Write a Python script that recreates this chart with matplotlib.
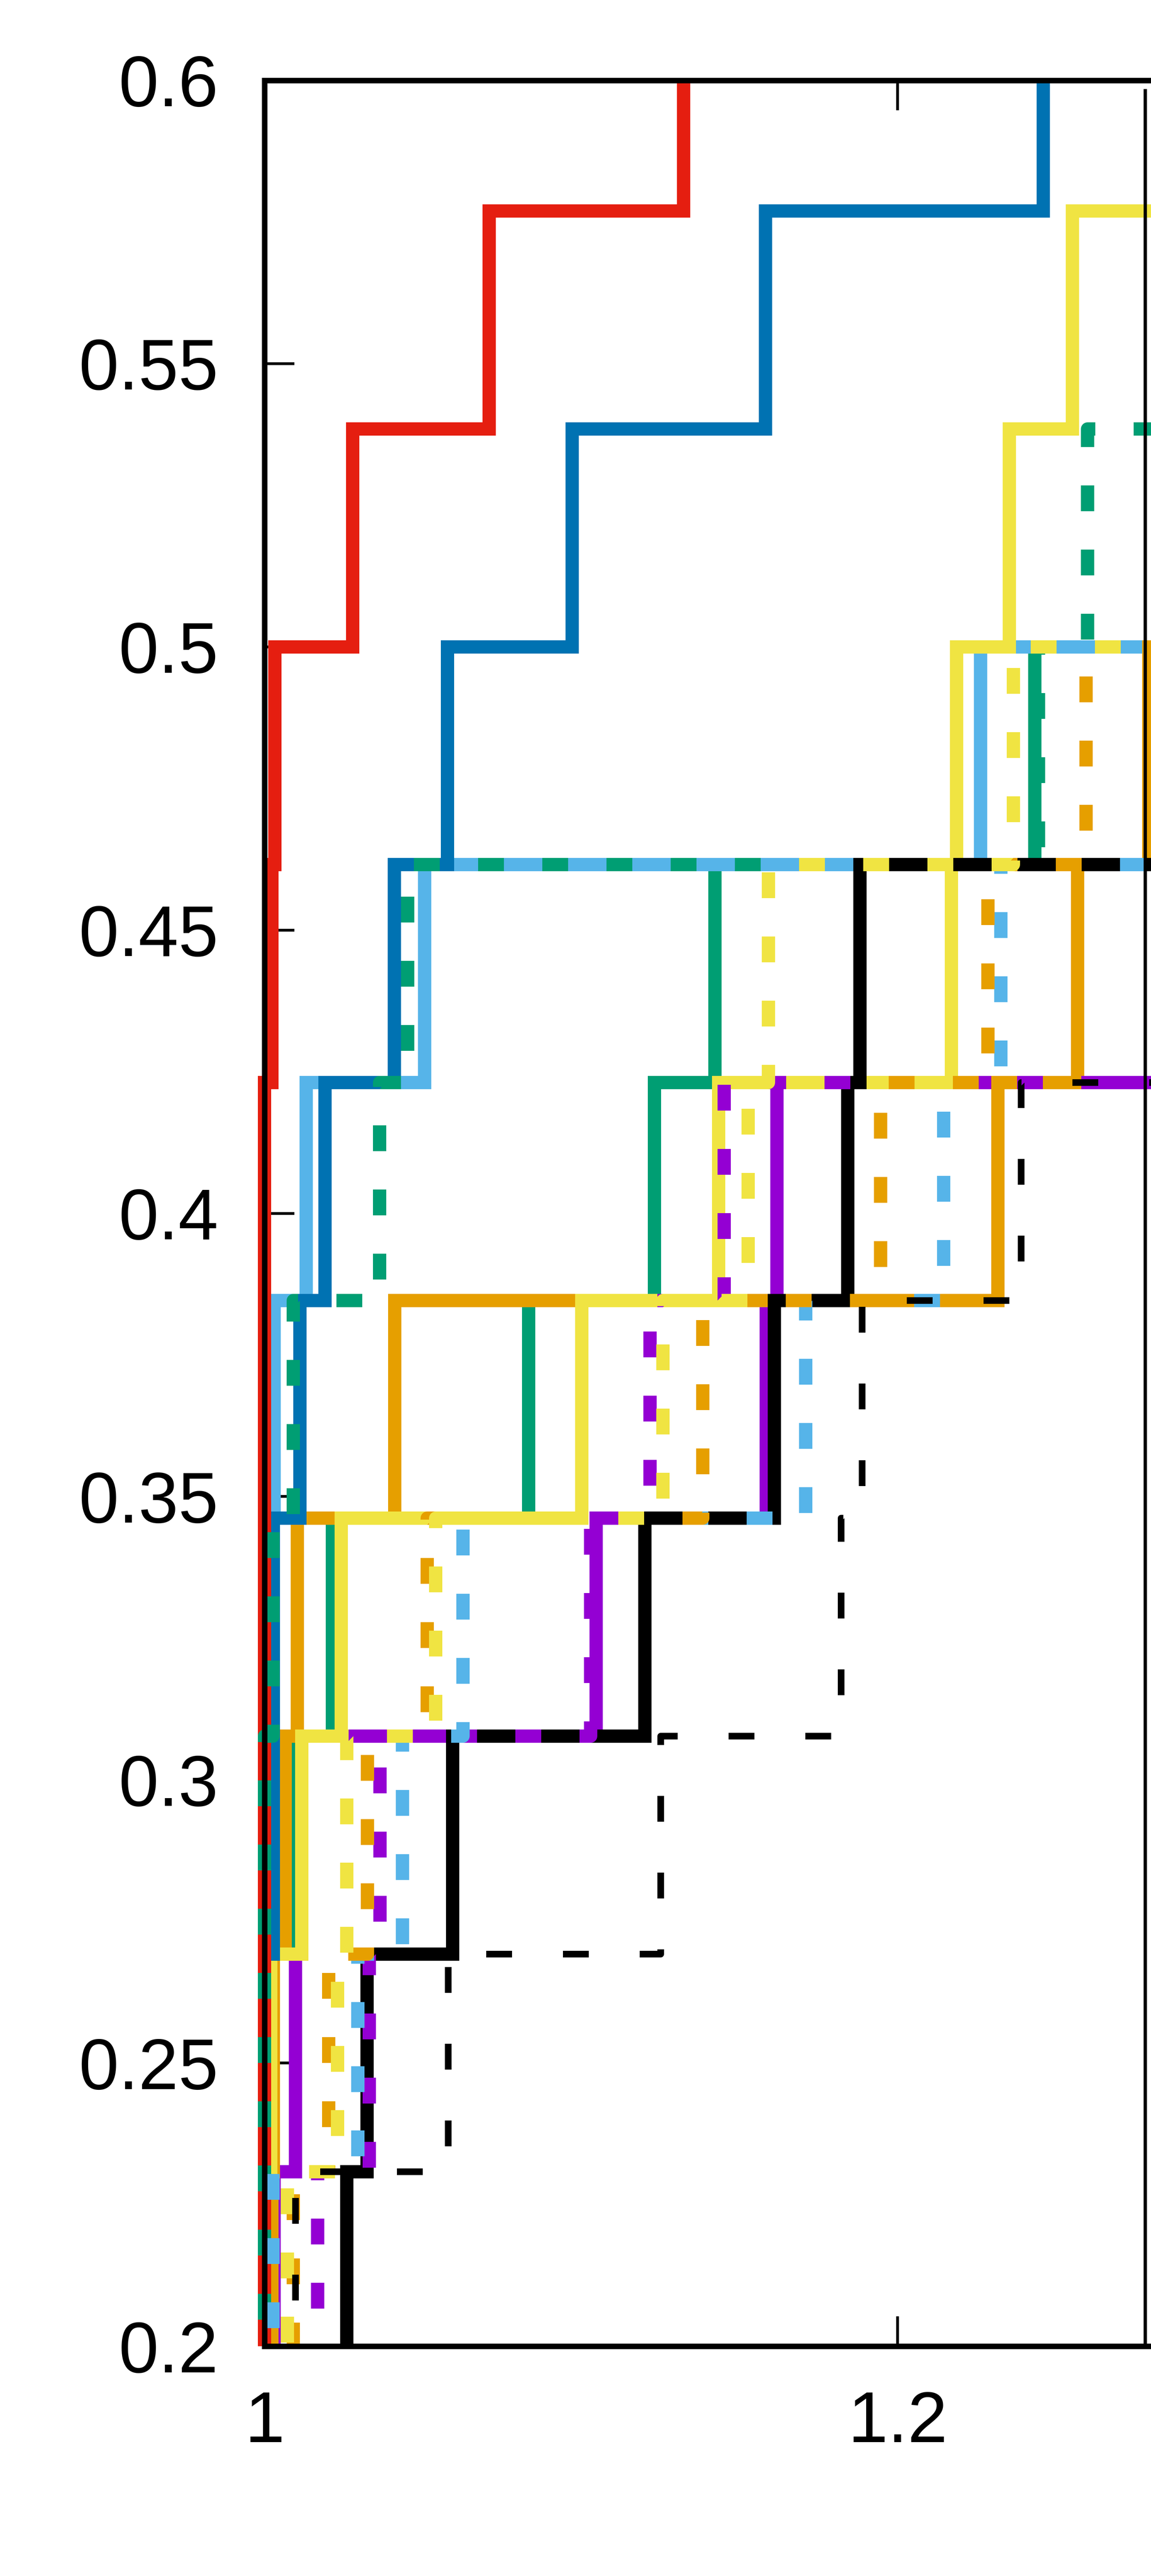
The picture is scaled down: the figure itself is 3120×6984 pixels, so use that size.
import numpy as np
import matplotlib.pyplot as plt
from matplotlib.patches import Rectangle

plt.rcParams['font.family'] = ['Liberation Sans', 'DejaVu Sans']

n_problems = 26
tau_end = 1.4

# performance profile: tau where each solver's curve steps up, and problems solved
# solid lines
purple_tau = [1.0, 1.003, 1.0098, 1.1048, 1.1585, 1.1619]
purple_cnt = [5, 6, 8, 9, 10, 11]
green_tau = [1.0, 1.0085, 1.0215, 1.0834, 1.1232, 1.1423, 1.2434]
green_cnt = [7, 8, 9, 10, 11, 12, 13]
skyblue_tau = [1.0, 1.003, 1.0132, 1.0506, 1.2262]
skyblue_cnt = [9, 10, 11, 12, 13]
orange_tau = [1.0, 1.0023, 1.0028, 1.0065, 1.0104, 1.0411, 1.2317, 1.2569, 1.2794]
orange_cnt = [5, 6, 7, 8, 9, 10, 11, 12, 13]
yellow_tau = [1.0, 1.002, 1.0118, 1.0242, 1.1002, 1.1435, 1.217, 1.2186, 1.2353, 1.2553]
yellow_cnt = [6, 7, 8, 9, 10, 11, 12, 13, 14, 15]
blue_tau = [1.0, 1.0028, 1.0112, 1.0191, 1.041, 1.0578, 1.0972, 1.1583, 1.246]
blue_cnt = [7, 9, 10, 11, 12, 13, 14, 15, 16]
red_tau = [1.0, 1.0023, 1.0033, 1.0279, 1.071, 1.1324]
red_cnt = [11, 12, 13, 14, 15, 16]
black_tau = [1.0, 1.026, 1.0324, 1.0594, 1.1202, 1.1611, 1.1843, 1.1881]
black_cnt = [5, 6, 7, 8, 9, 10, 11, 12]

# dashed lines
purple_d_tau = [1.0, 1.0168, 1.0331, 1.0365, 1.103, 1.1218, 1.1452]
purple_d_cnt = [5, 6, 7, 8, 9, 10, 11]
green_d_tau = [1.0, 1.0027, 1.0091, 1.0364, 1.0452, 1.2445, 1.26]
green_d_cnt = [8, 9, 10, 11, 12, 13, 14]
skyblue_d_tau = [1.0, 1.0027, 1.0295, 1.0436, 1.0627, 1.171, 1.2146, 1.2326]
skyblue_d_cnt = [5, 6, 7, 8, 9, 10, 11, 12]
orange_d_tau = [1.0, 1.0091, 1.0203, 1.0325, 1.0514, 1.1385, 1.1946, 1.2286, 1.2596]
orange_d_cnt = [5, 6, 7, 8, 9, 10, 11, 12, 13]
yellow_d_tau = [1.0, 1.0072, 1.0231, 1.026, 1.0541, 1.1259, 1.1528, 1.1592, 1.2366]
yellow_d_cnt = [5, 6, 7, 8, 9, 10, 11, 12, 13]
black_d_tau = [1.0, 1.0098, 1.058, 1.1252, 1.1822, 1.1888, 1.239]
black_d_cnt = [5, 6, 7, 8, 9, 10, 11]

# thin black line near the right edge
edge_tau = 1.2782
edge_top = 0.5985

x_ticks = [1.0, 1.2]
x_tick_labels = ['1', '1.2']
y_ticks = [0.2, 0.25, 0.3, 0.35, 0.4, 0.45, 0.5, 0.55, 0.6]
y_tick_labels = ['0.2', '0.25', '0.3', '0.35', '0.4', '0.45', '0.5', '0.55', '0.6']

DPI = 100
def pt(px):
    return px * 72.0 / DPI

fig = plt.figure(figsize=(31.2, 69.84), dpi=DPI)
# axes run past the right edge of the picture (the chart is a crop)
ax = fig.add_axes([717 / 3120, 623 / 6984, (tau_end - 1.0) * 8580 / 3120, 6143 / 6984])
clip = Rectangle((-0.05, 0), 1.05, 1, transform=ax.transAxes)

thick = pt(36)
dash = (70 / 36, 104 / 36)

solids = [
    (purple_tau, purple_cnt, '#9400d3'),
    (green_tau, green_cnt, '#009e73'),
    (skyblue_tau, skyblue_cnt, '#56b4e9'),
    (orange_tau, orange_cnt, '#e69f00'),
    (yellow_tau, yellow_cnt, '#f0e442'),
    (blue_tau, blue_cnt, '#0072b2'),
    (red_tau, red_cnt, '#e51e10'),
    (black_tau, black_cnt, '#000000'),
]
dashed = [
    (purple_d_tau, purple_d_cnt, '#9400d3', thick, dash),
    (green_d_tau, green_d_cnt, '#009e73', thick, dash),
    (skyblue_d_tau, skyblue_d_cnt, '#56b4e9', thick, dash),
    (orange_d_tau, orange_d_cnt, '#e69f00', thick, dash),
    (yellow_d_tau, yellow_d_cnt, '#f0e442', thick, dash),
    (black_d_tau, black_d_cnt, '#000000', pt(18), (70 / 18, 138 / 18)),
]

def profile(tau, cnt):
    x = [1.0] + list(tau) + [tau_end]
    y = [0] + list(cnt) + [cnt[-1]]
    return np.array(x), np.array(y) / n_problems

for tau, cnt, col in solids:
    x, y = profile(tau, cnt)
    ln, = ax.step(x, y, where='post', color=col, lw=thick, solid_joinstyle='miter')
    ln.set_clip_path(clip)

for tau, cnt, col, lw, ds in dashed:
    x, y = profile(tau, cnt)
    ln, = ax.step(x, y, where='post', color=col, lw=lw, dashes=ds, dash_capstyle='butt')
    ln.set_clip_path(clip)

ax.vlines(edge_tau, 0.2, edge_top, color='black', lw=pt(9), zorder=5)

ax.set_xlim(1.0, tau_end)
ax.set_ylim(0.2, 0.6)
ax.set_xticks(x_ticks, labels=x_tick_labels)
ax.set_yticks(y_ticks, labels=y_tick_labels)
ax.tick_params(direction='in', length=pt(81), width=pt(7.5), top=True, right=True,
               labelsize=140, colors='black')
ax.tick_params(axis='x', pad=86)
ax.tick_params(axis='y', pad=90)
for s in ax.spines.values():
    s.set_linewidth(pt(15))
    s.set_zorder(6)

fig.savefig('out.png', dpi=DPI)
